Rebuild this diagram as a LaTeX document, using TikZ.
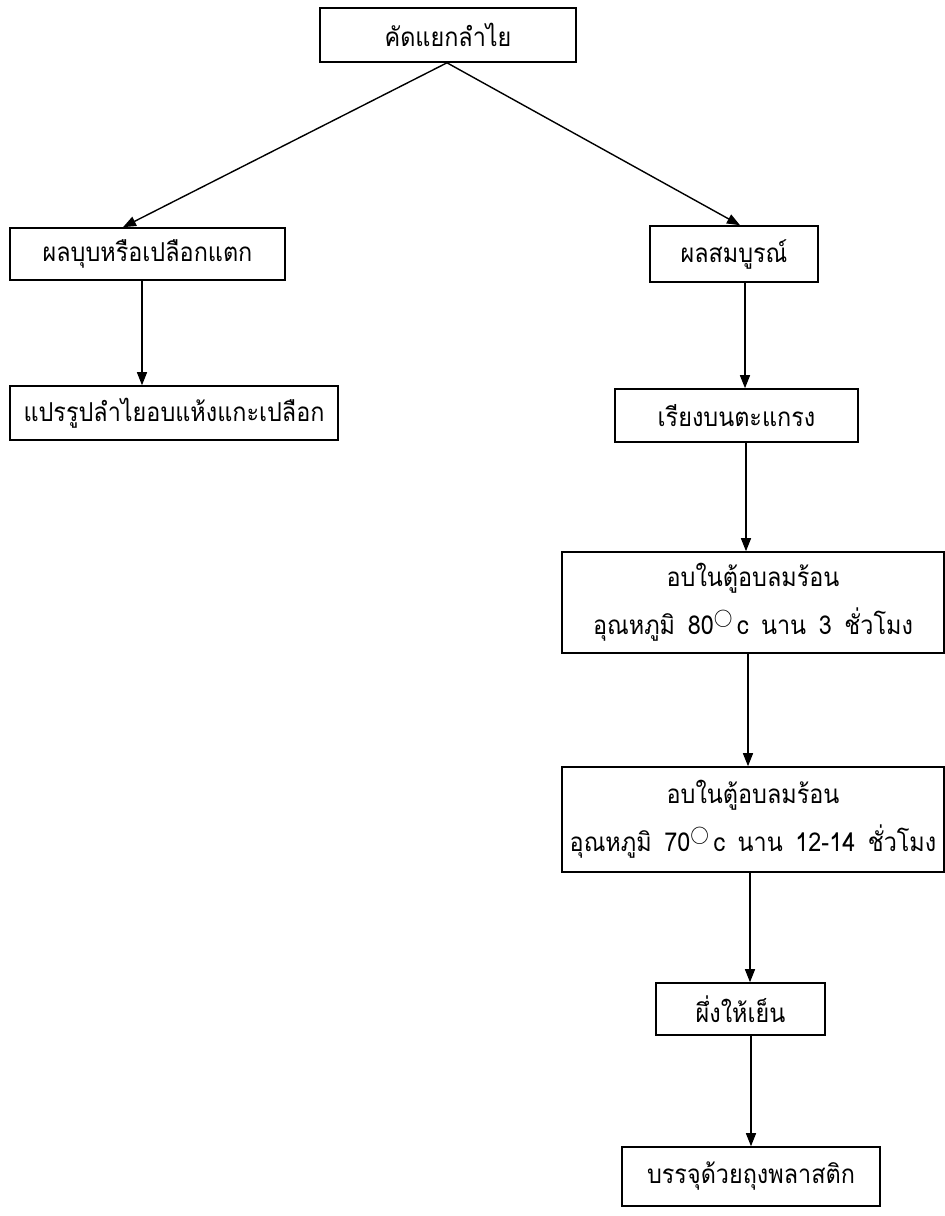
\documentclass[tikz,border=0pt]{standalone}
\usepackage{fontspec}
\newfontfamily\thaifont[Script=Thai,FakeStretch=0.9,WordSpace=1.6]{Loma}
\usetikzlibrary{arrows.meta}
\newcommand{\degc}{\raisebox{0.45em}{\scalebox{0.75}{$\bigcirc$}}\,c}
\begin{document}
\begin{tikzpicture}[x=1pt,y=-1pt,
  stepbox/.style={draw,line width=1.6pt,inner sep=0pt,font=\thaifont\fontsize{26}{48}\selectfont,align=center},
  flow/.style={line width=1.4pt,-{Triangle[length=13pt,width=10pt]}}]
\useasboundingbox (0,0) rectangle (945,1216);
% boxes
\node[stepbox,minimum width=256,minimum height=54] (sort) at (448,35) {คัดแยกลำไย};
\node[stepbox,minimum width=275,minimum height=52] (bruised) at (147.5,254) {ผลบุบหรือเปลือกแตก};
\node[stepbox,minimum width=328,minimum height=54] (peeled) at (174,413) {แปรรูปลำไยอบแห้งแกะเปลือก};
\node[stepbox,minimum width=168,minimum height=56] (whole) at (734,254) {ผลสมบูรณ์};
\node[stepbox,minimum width=243,minimum height=53] (tray) at (736.5,415.5) {เรียงบนตะแกรง};
\node[stepbox,minimum width=382,minimum height=101] (dryA) at (753,602.5) {อบในตู้อบลมร้อน\\อุณหภูมิ 80\degc{} นาน 3 ชั่วโมง};
\node[stepbox,minimum width=382,minimum height=105] (dryB) at (753,819.5) {อบในตู้อบลมร้อน\\อุณหภูมิ 70\degc{} นาน 12-14 ชั่วโมง};
\node[stepbox,minimum width=169,minimum height=52] (cool) at (740.5,1009) {ผึ่งให้เย็น};
\node[stepbox,minimum width=258,minimum height=59] (pack) at (751,1176.5) {บรรจุด้วยถุงพลาสติก};
% connectors
\coordinate (lefttip) at (bruised.north -| 123,0);
\coordinate (righttip) at (whole.north -| 740,0);
\draw[flow] (sort.south -| 447,0) -- (lefttip);
\draw[flow] (sort.south -| 447,0) -- (righttip);
\draw[flow] (bruised.south -| 142,0) -- (peeled.north -| 142,0);
\draw[flow] (whole.south -| 745,0) -- (tray.north -| 745,0);
\draw[flow] (tray.south -| 746,0) -- (dryA.north -| 746,0);
\draw[flow] (dryA.south -| 748,0) -- (dryB.north -| 748,0);
\draw[flow] (dryB.south -| 750,0) -- (cool.north -| 750,0);
\draw[flow] (cool.south -| 751,0) -- (pack.north -| 751,0);
\end{tikzpicture}
\end{document}
